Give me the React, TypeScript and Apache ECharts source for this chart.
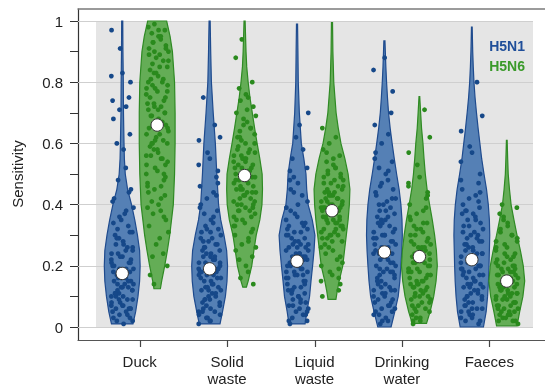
import React, { useEffect, useRef } from "react";
import * as echarts from "echarts";

const CATEGORIES = ["Duck", "Solid\nwaste", "Liquid\nwaste", "Drinking\nwater", "Faeces"];
const SERIES_NAMES = ["H5N1", "H5N6"];
const Y_MIN = 0;
const Y_MAX = 1;
const Y_INTERVAL = 0.2;

const MEDIAN_H5N1 = [0.175, 0.19, 0.215, 0.245, 0.22];
const MEDIAN_H5N6 = [0.66, 0.495, 0.38, 0.23, 0.15];

// violin outlines: [value, relative half-width]
const DUCK_H5N1_SHAPE = [[0.01,0.6],[0.05,0.75],[0.1,0.88],[0.15,0.97],[0.2,1.0],[0.25,0.97],[0.3,0.85],[0.35,0.7],[0.4,0.52],[0.45,0.3],[0.5,0.17],[0.55,0.12],[0.6,0.1],[0.7,0.07],[0.8,0.06],[0.9,0.04],[1.0,0.03]];
const SOLID_H5N1_SHAPE = [[0.01,0.58],[0.05,0.72],[0.1,0.88],[0.15,0.97],[0.2,1.0],[0.25,0.95],[0.3,0.8],[0.35,0.62],[0.4,0.5],[0.5,0.4],[0.6,0.32],[0.7,0.2],[0.8,0.1],[0.9,0.06],[1.0,0.03]];
const LIQUID_H5N1_SHAPE = [[0.01,0.45],[0.05,0.55],[0.1,0.7],[0.15,0.78],[0.2,0.87],[0.25,0.95],[0.3,1.0],[0.35,0.85],[0.4,0.62],[0.45,0.54],[0.5,0.5],[0.55,0.38],[0.6,0.24],[0.7,0.13],[0.8,0.07],[0.9,0.05],[0.99,0.03]];
const DRINK_H5N1_SHAPE = [[0.0,0.37],[0.05,0.58],[0.1,0.77],[0.15,0.86],[0.2,0.92],[0.25,0.97],[0.3,1.0],[0.35,0.98],[0.4,0.92],[0.45,0.82],[0.5,0.68],[0.55,0.55],[0.6,0.43],[0.65,0.32],[0.7,0.23],[0.75,0.17],[0.8,0.12],[0.85,0.08],[0.9,0.05],[0.935,0.03]];
const FAECES_H5N1_SHAPE = [[0.0,0.65],[0.05,0.8],[0.1,0.88],[0.15,0.93],[0.2,0.96],[0.25,0.98],[0.3,1.0],[0.35,0.98],[0.4,0.92],[0.45,0.82],[0.5,0.68],[0.55,0.55],[0.6,0.45],[0.65,0.35],[0.7,0.26],[0.75,0.18],[0.8,0.12],[0.85,0.08],[0.9,0.05],[0.98,0.02]];

const DUCK_H5N6_SHAPE = [[0.125,0.18],[0.15,0.25],[0.2,0.42],[0.25,0.57],[0.3,0.7],[0.35,0.8],[0.4,0.9],[0.5,0.97],[0.6,1.0],[0.7,1.0],[0.8,0.97],[0.9,0.85],[0.95,0.72],[1.0,0.53]];
const SOLID_H5N6_SHAPE = [[0.13,0.1],[0.15,0.2],[0.2,0.4],[0.25,0.52],[0.3,0.65],[0.35,0.85],[0.4,0.97],[0.45,1.0],[0.5,0.98],[0.55,0.85],[0.6,0.7],[0.65,0.56],[0.7,0.43],[0.75,0.3],[0.8,0.2],[0.85,0.12],[0.9,0.08],[1.0,0.03]];
const LIQUID_H5N6_SHAPE = [[0.09,0.22],[0.12,0.3],[0.15,0.4],[0.2,0.6],[0.25,0.7],[0.3,0.8],[0.35,0.9],[0.4,0.97],[0.45,1.0],[0.5,0.9],[0.55,0.72],[0.6,0.5],[0.65,0.35],[0.7,0.23],[0.8,0.1],[0.9,0.05],[0.995,0.03]];
const DRINK_H5N6_SHAPE = [[0.012,0.4],[0.05,0.6],[0.1,0.8],[0.15,0.93],[0.2,1.0],[0.25,0.95],[0.3,0.85],[0.35,0.72],[0.4,0.57],[0.45,0.43],[0.5,0.33],[0.55,0.26],[0.6,0.2],[0.65,0.12],[0.7,0.07],[0.753,0.02]];
const FAECES_H5N6_SHAPE = [[0.004,0.57],[0.05,0.72],[0.1,0.9],[0.15,1.0],[0.2,0.92],[0.25,0.76],[0.3,0.57],[0.35,0.4],[0.4,0.24],[0.45,0.15],[0.5,0.08],[0.55,0.05],[0.61,0.02]];

// individual sensitivity values (jittered points)
const DUCK_H5N1_PTS = [0.01,0.02,0.03,0.03,0.04,0.05,0.05,0.06,0.06,0.07,0.07,0.08,0.08,0.09,0.09,0.10,0.10,0.11,0.11,0.12,0.12,0.13,0.13,0.14,0.14,0.15,0.15,0.16,0.16,0.17,0.17,0.18,0.18,0.19,0.19,0.20,0.21,0.21,0.22,0.23,0.23,0.24,0.25,0.26,0.27,0.28,0.29,0.30,0.31,0.32,0.33,0.35,0.37,0.39,0.42,0.45,0.48,0.52,0.58,0.60,0.63,0.68,0.71,0.72,0.74,0.75,0.80,0.82,0.83,0.91,0.97,
  0.02,0.04,0.06,0.07,0.09,0.11,0.12,0.14,0.15,0.16,0.18,0.19,0.20,0.22,0.24,0.25,0.27,0.29,0.31,0.34,0.36,0.38,0.41,0.44,0.06,0.10,0.13,0.17,0.21,0.26];
const SOLID_H5N1_PTS = [0.01,0.02,0.03,0.04,0.04,0.05,0.06,0.06,0.07,0.08,0.08,0.09,0.10,0.10,0.11,0.12,0.12,0.13,0.13,0.14,0.15,0.15,0.16,0.16,0.17,0.17,0.18,0.18,0.19,0.19,0.20,0.20,0.21,0.21,0.22,0.23,0.23,0.24,0.25,0.25,0.26,0.27,0.28,0.29,0.30,0.31,0.32,0.33,0.34,0.35,0.37,0.38,0.40,0.42,0.44,0.46,0.49,0.51,0.53,0.55,0.57,0.61,0.62,0.66,0.75,
  0.02,0.03,0.05,0.07,0.09,0.11,0.12,0.14,0.16,0.18,0.19,0.21,0.22,0.24,0.26,0.27,0.29,0.32,0.36,0.39,0.43,0.47,0.05,0.09,0.13,0.17,0.20,0.23,0.28,0.31];
const LIQUID_H5N1_PTS = [0.01,0.02,0.03,0.04,0.05,0.06,0.06,0.07,0.08,0.09,0.09,0.10,0.11,0.11,0.12,0.13,0.13,0.14,0.15,0.15,0.16,0.17,0.17,0.18,0.18,0.19,0.20,0.20,0.21,0.21,0.22,0.23,0.23,0.24,0.24,0.25,0.26,0.26,0.27,0.27,0.28,0.29,0.29,0.30,0.31,0.31,0.32,0.33,0.34,0.35,0.36,0.37,0.39,0.41,0.43,0.45,0.47,0.49,0.51,0.52,0.55,0.58,0.62,0.66,0.70,
  0.02,0.04,0.07,0.08,0.10,0.12,0.14,0.16,0.18,0.19,0.20,0.22,0.23,0.25,0.26,0.28,0.30,0.32,0.34,0.38,0.40,0.44,0.48,0.05,0.12,0.17,0.21,0.24,0.27,0.33];
const DRINK_H5N1_PTS = [0.01,0.02,0.03,0.04,0.05,0.05,0.06,0.07,0.08,0.08,0.09,0.10,0.10,0.11,0.12,0.12,0.13,0.14,0.14,0.15,0.16,0.16,0.17,0.18,0.18,0.19,0.20,0.20,0.21,0.22,0.22,0.23,0.24,0.24,0.25,0.26,0.26,0.27,0.28,0.28,0.29,0.30,0.30,0.31,0.32,0.33,0.34,0.35,0.35,0.36,0.37,0.38,0.39,0.40,0.41,0.42,0.43,0.45,0.46,0.48,0.50,0.52,0.54,0.57,0.60,0.63,0.66,0.70,0.77,0.84,0.88,
  0.02,0.04,0.06,0.07,0.09,0.11,0.13,0.15,0.17,0.19,0.21,0.23,0.25,0.27,0.29,0.31,0.33,0.36,0.38,0.40,0.42,0.44,0.47,0.51,0.55,0.12,0.18,0.24,0.30,0.34];
const FAECES_H5N1_PTS = [0.01,0.02,0.03,0.03,0.04,0.05,0.06,0.06,0.07,0.08,0.08,0.09,0.10,0.10,0.11,0.11,0.12,0.13,0.13,0.14,0.14,0.15,0.16,0.16,0.17,0.17,0.18,0.19,0.19,0.20,0.20,0.21,0.22,0.22,0.23,0.24,0.24,0.25,0.26,0.26,0.27,0.28,0.29,0.30,0.30,0.31,0.32,0.33,0.34,0.35,0.36,0.37,0.38,0.39,0.40,0.42,0.43,0.45,0.47,0.50,0.54,0.57,0.59,0.64,0.69,0.80,
  0.02,0.04,0.05,0.07,0.09,0.10,0.12,0.14,0.15,0.17,0.18,0.20,0.21,0.23,0.25,0.27,0.28,0.31,0.33,0.35,0.37,0.41,0.44,0.48,0.06,0.13,0.19,0.24,0.29,0.38];

const DUCK_H5N6_PTS = [0.14,0.17,0.20,0.23,0.24,0.27,0.29,0.31,0.33,0.35,0.37,0.38,0.40,0.41,0.43,0.44,0.45,0.46,0.47,0.48,0.49,0.50,0.51,0.52,0.53,0.54,0.55,0.56,0.57,0.58,0.59,0.60,0.60,0.61,0.62,0.63,0.64,0.65,0.66,0.66,0.67,0.68,0.69,0.70,0.71,0.72,0.72,0.73,0.74,0.75,0.76,0.77,0.78,0.78,0.79,0.80,0.81,0.82,0.83,0.84,0.85,0.86,0.87,0.88,0.89,0.90,0.91,0.92,0.93,0.94,0.95,0.96,0.97,0.98,0.99,
  0.42,0.46,0.50,0.53,0.56,0.58,0.61,0.63,0.65,0.67,0.69,0.71,0.73,0.75,0.77,0.79,0.81,0.83,0.85,0.87,0.89,0.91,0.93,0.95,0.97,0.60,0.70,0.80,0.90,0.55,0.39,0.36];
const SOLID_H5N6_PTS = [0.14,0.16,0.18,0.20,0.22,0.23,0.25,0.27,0.28,0.30,0.31,0.32,0.33,0.34,0.35,0.36,0.37,0.38,0.38,0.39,0.40,0.40,0.41,0.42,0.42,0.43,0.44,0.44,0.45,0.46,0.46,0.47,0.48,0.48,0.49,0.50,0.50,0.51,0.52,0.52,0.53,0.54,0.55,0.55,0.56,0.57,0.58,0.59,0.60,0.61,0.62,0.63,0.64,0.65,0.66,0.67,0.69,0.70,0.72,0.74,0.75,0.76,0.78,0.80,0.88,0.94,
  0.29,0.33,0.36,0.39,0.41,0.43,0.45,0.47,0.49,0.51,0.53,0.54,0.56,0.58,0.60,0.62,0.65,0.68,0.71,0.26,0.35,0.40,0.45,0.50,0.55,0.38,0.44,0.48,0.52,0.57];
const LIQUID_H5N6_PTS = [0.10,0.12,0.14,0.15,0.17,0.18,0.20,0.21,0.22,0.24,0.25,0.26,0.27,0.28,0.29,0.30,0.30,0.31,0.32,0.32,0.33,0.34,0.34,0.35,0.35,0.36,0.36,0.37,0.37,0.38,0.38,0.39,0.39,0.40,0.40,0.41,0.41,0.42,0.42,0.43,0.44,0.44,0.45,0.45,0.46,0.47,0.48,0.48,0.49,0.50,0.51,0.52,0.53,0.54,0.56,0.58,0.60,0.62,0.65,
  0.19,0.23,0.26,0.28,0.30,0.31,0.33,0.34,0.36,0.37,0.38,0.39,0.40,0.41,0.42,0.43,0.44,0.46,0.47,0.49,0.50,0.52,0.55,0.57,0.35,0.39,0.43,0.32,0.29,0.16];
const DRINK_H5N6_PTS = [0.01,0.02,0.03,0.04,0.05,0.06,0.06,0.07,0.08,0.09,0.09,0.10,0.11,0.11,0.12,0.13,0.13,0.14,0.15,0.15,0.16,0.16,0.17,0.18,0.18,0.19,0.19,0.20,0.21,0.21,0.22,0.22,0.23,0.24,0.24,0.25,0.26,0.26,0.27,0.28,0.29,0.30,0.31,0.32,0.33,0.34,0.35,0.37,0.38,0.40,0.42,0.44,0.47,0.49,0.53,0.57,0.62,0.71,
  0.02,0.03,0.05,0.07,0.08,0.10,0.12,0.14,0.15,0.17,0.18,0.20,0.21,0.23,0.25,0.27,0.28,0.30,0.32,0.34,0.36,0.39,0.43,0.46,0.10,0.14,0.19,0.22,0.26,0.13];
const FAECES_H5N6_PTS = [0.01,0.02,0.02,0.03,0.04,0.04,0.05,0.05,0.06,0.06,0.07,0.07,0.08,0.08,0.09,0.09,0.10,0.10,0.11,0.11,0.12,0.12,0.13,0.13,0.14,0.14,0.15,0.15,0.16,0.16,0.17,0.17,0.18,0.18,0.19,0.19,0.20,0.20,0.21,0.22,0.22,0.23,0.24,0.25,0.26,0.27,0.28,0.29,0.30,0.31,0.33,0.35,0.37,0.39,0.40,
  0.02,0.03,0.05,0.06,0.07,0.08,0.09,0.10,0.11,0.12,0.13,0.14,0.15,0.16,0.17,0.18,0.19,0.21,0.23,0.24,0.26,0.28,0.30,0.32,0.34,0.36,0.04,0.11,0.15,0.20];

// horizontal jitter fractions (visual spread only)
const JITTER = [0.12,-0.71,0.53,-0.28,0.91,-0.95,0.34,-0.47,0.76,-0.09,-0.62,0.45,0.02,-0.84,0.67,-0.36,0.22,0.88,-0.55,-0.18,0.59,-0.77,0.31,0.98,-0.41,0.08,-0.93,0.72,-0.24];

const SHAPES_H5N1 = [DUCK_H5N1_SHAPE, SOLID_H5N1_SHAPE, LIQUID_H5N1_SHAPE, DRINK_H5N1_SHAPE, FAECES_H5N1_SHAPE];
const SHAPES_H5N6 = [DUCK_H5N6_SHAPE, SOLID_H5N6_SHAPE, LIQUID_H5N6_SHAPE, DRINK_H5N6_SHAPE, FAECES_H5N6_SHAPE];
const PTS_H5N1 = [DUCK_H5N1_PTS, SOLID_H5N1_PTS, LIQUID_H5N1_PTS, DRINK_H5N1_PTS, FAECES_H5N1_PTS];
const PTS_H5N6 = [DUCK_H5N6_PTS, SOLID_H5N6_PTS, LIQUID_H5N6_PTS, DRINK_H5N6_PTS, FAECES_H5N6_PTS];

const GROUPS = [
  { name: SERIES_NAMES[0], shapes: SHAPES_H5N1, pts: PTS_H5N1, medians: MEDIAN_H5N1, side: -1,
    fill: "#5580b5", stroke: "#1f4b8e", dot: "#164889", legend: "#1f4e99" },
  { name: SERIES_NAMES[1], shapes: SHAPES_H5N6, pts: PTS_H5N6, medians: MEDIAN_H5N6, side: 1,
    fill: "#64ad56", stroke: "#2f8a24", dot: "#2a8a1d", legend: "#3a9a2a" },
];

const FONT = "'Liberation Sans', Arial, sans-serif";

export default function App() {
  const ref = useRef<HTMLDivElement>(null);
  useEffect(() => {
    if (!ref.current) return;
    const chart = echarts.init(ref.current, undefined, { renderer: "svg" });

    const series: any[] = GROUPS.map((g, gi) => ({
      type: "custom",
      name: g.name,
      xAxisIndex: 0,
      yAxisIndex: 0,
      z: 2,
      clip: false,
      data: CATEGORIES.map((_, i) => [i, g.medians[i]]),
      renderItem: (params: any, api: any) => {
        const cat = api.value(0);
        const band = api.size([1, 0])[0];
        const base = api.coord([cat, 0]);
        const cx = base[0] + g.side * band * 0.2;
        const maxHalf = band * 0.205;
        const shape = g.shapes[cat];
        const right = shape.map(([v, w]: number[]) => [cx + w * maxHalf, api.coord([cat, v])[1]]);
        const left = shape.slice().reverse().map(([v, w]: number[]) => [cx - w * maxHalf, api.coord([cat, v])[1]]);
        const children: any[] = [
          {
            type: "polygon",
            shape: { points: right.concat(left) },
            style: { fill: g.fill, stroke: g.stroke, lineWidth: 1.2 },
          },
        ];
        const amp = maxHalf * 0.64;
        g.pts[cat].forEach((v: number, i: number) => {
          const j = JITTER[(i * 7 + cat * 5 + gi * 3) % JITTER.length];
          children.push({
            type: "circle",
            shape: { cx: cx + j * amp, cy: api.coord([cat, v])[1], r: 2.4 },
            style: { fill: g.dot },
          });
        });
        children.push({
          type: "circle",
          shape: { cx, cy: api.coord([cat, g.medians[cat]])[1], r: 6.2 },
          style: { fill: "#ffffff", stroke: "#333333", lineWidth: 1 },
        });
        return { type: "group", children };
      },
    }));

    // category tick marks under the frame's bottom line
    series.push({
      type: "custom",
      name: "ticks",
      xAxisIndex: 0,
      yAxisIndex: 0,
      z: 3,
      clip: false,
      silent: true,
      data: CATEGORIES.map((_, i) => [i, 0]),
      renderItem: (params: any, api: any) => {
        const p = api.coord([api.value(0), 0]);
        const x = Math.round(p[0]) + 0.5;
        return {
          type: "rect",
          shape: { x: x - 0.6, y: p[1] + 13, width: 1.2, height: 7 },
          style: { fill: "#444" },
        };
      },
    });

    chart.setOption({
      animation: false,
      textStyle: { fontFamily: FONT },
      legend: {
        data: GROUPS.map((g) => ({ name: g.name, icon: "none", textStyle: { color: g.legend } })),
        orient: "vertical",
        right: 15,
        top: 34,
        align: "left",
        itemWidth: 0,
        itemGap: 6,
        selectedMode: false,
        textStyle: { fontSize: 14, fontWeight: "bold", fontFamily: FONT },
      },
      grid: [
        { left: 96, right: 12, top: 21, bottom: 60, show: true, backgroundColor: "#e5e5e5", borderWidth: 0, z: 0 },
        { left: 78, right: 12, top: 21, bottom: 60, show: false },
        { left: 78, right: 0, top: 9, bottom: 47, show: false },
        { left: 96, right: 12, top: 21, bottom: 47, show: false },
      ],
      xAxis: [
        { type: "category", gridIndex: 0, data: CATEGORIES, show: false },
        { type: "value", gridIndex: 1, show: false },
        { type: "value", gridIndex: 2, position: "bottom", axisLine: { show: true, onZero: false, lineStyle: { color: "#555", width: 1.2 } }, axisTick: { show: false }, axisLabel: { show: false }, splitLine: { show: false } },
        { type: "value", gridIndex: 2, position: "top", axisLine: { show: true, onZero: false, lineStyle: { color: "#7a7a7a", width: 1.5 } }, axisTick: { show: false }, axisLabel: { show: false }, splitLine: { show: false } },
        {
          type: "category",
          gridIndex: 3,
          data: CATEGORIES,
          position: "bottom",
          axisLine: { show: false, onZero: false },
          axisTick: { show: false },
          axisLabel: { fontSize: 15, color: "#222", lineHeight: 17, margin: 14, fontFamily: FONT },
          splitLine: { show: false },
        },
      ],
      yAxis: [
        { type: "value", gridIndex: 0, min: Y_MIN, max: Y_MAX, show: false },
        {
          type: "value",
          gridIndex: 1,
          min: Y_MIN,
          max: Y_MAX,
          interval: Y_INTERVAL,
          z: 1,
          name: "Sensitivity",
          nameLocation: "middle",
          nameGap: 53,
          nameTextStyle: { fontSize: 15, color: "#222", fontFamily: FONT },
          axisLine: { show: false },
          axisTick: { show: true, length: 8, lineStyle: { color: "#333" } },
          minorTick: { show: true, splitNumber: 2, length: 8, lineStyle: { color: "#333" } },
          axisLabel: { fontSize: 15, color: "#222", margin: 15, fontFamily: FONT },
          splitLine: { show: true, lineStyle: { color: "#cfcfcf", width: 1 } },
        },
        { type: "value", gridIndex: 2, axisLine: { show: true, onZero: false, lineStyle: { color: "#333", width: 1.2 } }, axisTick: { show: false }, axisLabel: { show: false }, splitLine: { show: false } },
        { type: "value", gridIndex: 3, min: 0, max: 1, show: false },
      ],
      series,
    });
    return () => chart.dispose();
  }, []);
  return <div ref={ref} style={{ position: "fixed", left: 0, top: 0, width: 545, height: 387 }} />;
}
